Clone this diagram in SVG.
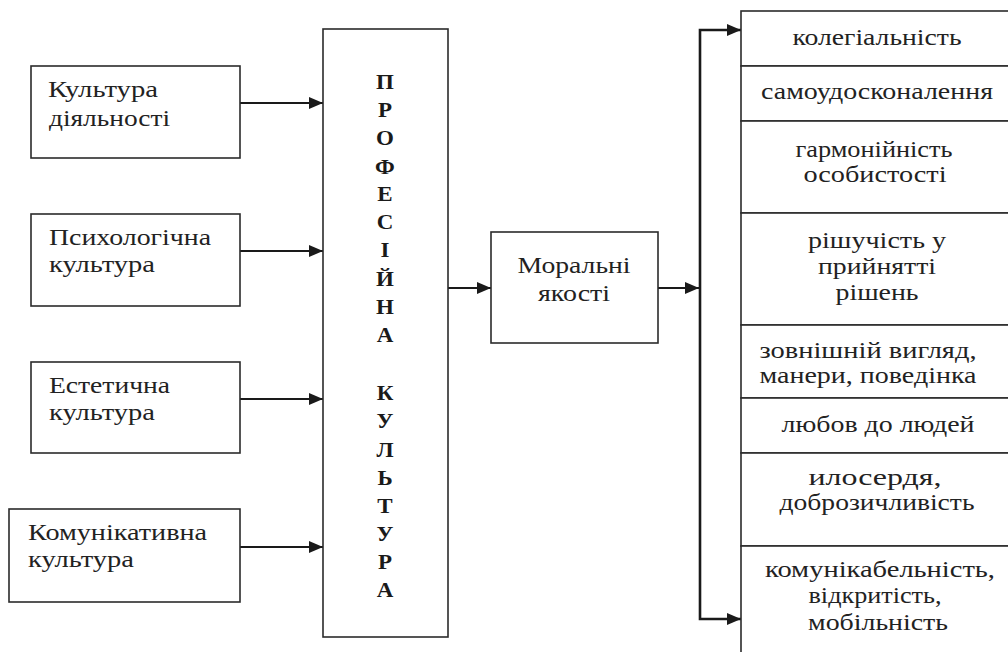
<svg xmlns="http://www.w3.org/2000/svg" width="1008" height="652" viewBox="0 0 1008 652">
<style>
.box{fill:#fff;stroke:#2b2b2b;stroke-width:1.6}
.t{font-family:'Liberation Serif','Times New Roman',serif;font-size:24px;fill:#222}
.c{text-anchor:middle}
.v{font-family:'Liberation Serif','Times New Roman',serif;font-size:20px;font-weight:bold;fill:#1a1a1a;text-anchor:middle}
.ln{stroke:#1a1a1a;stroke-width:2;fill:none}
.bus{stroke:#1a1a1a;stroke-width:2.6;fill:none}
</style>
<defs>
<marker id="ah" markerWidth="16" markerHeight="14" refX="14" refY="6" orient="auto" markerUnits="userSpaceOnUse">
<path d="M0,0 L14,6 L0,12 Z" fill="#1a1a1a"/>
</marker>
</defs>
<rect width="1008" height="652" fill="#fff"/>

<g id="connectors">
<line class="ln" x1="240" y1="103" x2="323" y2="103" marker-end="url(#ah)"/>
<line class="ln" x1="240" y1="251" x2="323" y2="251" marker-end="url(#ah)"/>
<line class="ln" x1="240" y1="399" x2="323" y2="399" marker-end="url(#ah)"/>
<line class="ln" x1="240" y1="547" x2="323" y2="547" marker-end="url(#ah)"/>
<line class="ln" x1="448" y1="288" x2="491" y2="288" marker-end="url(#ah)"/>
<line class="ln" x1="658" y1="288" x2="699" y2="288" marker-end="url(#ah)"/>
<polyline class="bus" points="741,30 700,30 700,619 741,619"/>
<line class="ln" x1="700" y1="30" x2="741" y2="30" marker-end="url(#ah)"/>
<line class="ln" x1="700" y1="619" x2="741" y2="619" marker-end="url(#ah)"/>
</g>

<g id="n-kultura-diyalnosti">
<rect class="box" x="31" y="66" width="209" height="92"/>
<text class="t" x="48" y="97" textLength="110" lengthAdjust="spacingAndGlyphs">Культура</text>
<text class="t" x="49" y="126" textLength="121" lengthAdjust="spacingAndGlyphs">діяльності</text>
</g>
<g id="n-psykholohichna">
<rect class="box" x="31" y="214" width="209" height="92"/>
<text class="t" x="49" y="245" textLength="162" lengthAdjust="spacingAndGlyphs">Психологічна</text>
<text class="t" x="49" y="272" textLength="106" lengthAdjust="spacingAndGlyphs">культура</text>
</g>
<g id="n-estetychna">
<rect class="box" x="31" y="362" width="209" height="91"/>
<text class="t" x="49" y="393" textLength="121" lengthAdjust="spacingAndGlyphs">Естетична</text>
<text class="t" x="49" y="420" textLength="106" lengthAdjust="spacingAndGlyphs">культура</text>
</g>
<g id="n-komunikatyvna">
<rect class="box" x="9" y="509" width="231" height="93"/>
<text class="t" x="28" y="540" textLength="179" lengthAdjust="spacingAndGlyphs">Комунікативна</text>
<text class="t" x="28" y="567" textLength="106" lengthAdjust="spacingAndGlyphs">культура</text>
</g>

<g id="n-profesiina-kultura">
<rect class="box" x="323" y="29" width="125" height="608"/>
<g transform="translate(385,0) scale(1.15,1) translate(-385,0)">
<text class="v" x="385" y="89">П</text>
<text class="v" x="385" y="117">Р</text>
<text class="v" x="385" y="145">О</text>
<text class="v" x="385" y="174">Ф</text>
<text class="v" x="385" y="201">Е</text>
<text class="v" x="385" y="229">С</text>
<text class="v" x="385" y="257">І</text>
<text class="v" x="385" y="286">Й</text>
<text class="v" x="385" y="314">Н</text>
<text class="v" x="385" y="342">А</text>
<text class="v" x="385" y="400">К</text>
<text class="v" x="385" y="428">У</text>
<text class="v" x="385" y="457">Л</text>
<text class="v" x="385" y="485">Ь</text>
<text class="v" x="385" y="513">Т</text>
<text class="v" x="385" y="541">У</text>
<text class="v" x="385" y="569">Р</text>
<text class="v" x="385" y="597">А</text>
</g>
</g>

<g id="n-moralni-yakosti">
<rect class="box" x="491" y="232" width="167" height="111"/>
<text class="t c" x="574" y="273" textLength="113" lengthAdjust="spacingAndGlyphs">Моральні</text>
<text class="t c" x="574" y="301" textLength="72" lengthAdjust="spacingAndGlyphs">якості</text>
</g>

<g id="n-kolehialnist">
<rect class="box" x="741" y="11" width="290" height="55"/>
<text class="t c" x="877" y="45" textLength="169" lengthAdjust="spacingAndGlyphs">колегіальність</text>
</g>
<g id="n-samoudoskonalennia">
<rect class="box" x="741" y="66" width="290" height="55"/>
<text class="t c" x="877" y="99" textLength="232" lengthAdjust="spacingAndGlyphs">самоудосконалення</text>
</g>
<g id="n-harmoniinist">
<rect class="box" x="741" y="121" width="290" height="92"/>
<text class="t c" x="874" y="157" textLength="157" lengthAdjust="spacingAndGlyphs">гармонійність</text>
<text class="t c" x="875" y="182" textLength="143" lengthAdjust="spacingAndGlyphs">особистості</text>
</g>
<g id="n-rishuchist">
<rect class="box" x="741" y="213" width="290" height="112"/>
<text class="t c" x="877" y="248" textLength="138" lengthAdjust="spacingAndGlyphs">рішучість у</text>
<text class="t c" x="877" y="274" textLength="118" lengthAdjust="spacingAndGlyphs">прийнятті</text>
<text class="t c" x="877" y="300" textLength="83" lengthAdjust="spacingAndGlyphs">рішень</text>
</g>
<g id="n-zovnishnii-vyhliad">
<rect class="box" x="741" y="325" width="290" height="73"/>
<text class="t c" x="868" y="358" textLength="217" lengthAdjust="spacingAndGlyphs">зовнішній вигляд,</text>
<text class="t c" x="868" y="383" textLength="217" lengthAdjust="spacingAndGlyphs">манери, поведінка</text>
</g>
<g id="n-liubov">
<rect class="box" x="741" y="398" width="290" height="55"/>
<text class="t c" x="878" y="432" textLength="193" lengthAdjust="spacingAndGlyphs">любов до людей</text>
</g>
<g id="n-myloserdia">
<rect class="box" x="741" y="453" width="290" height="93"/>
<text class="t c" x="875" y="485" textLength="133" lengthAdjust="spacingAndGlyphs">илосердя,</text>
<text class="t c" x="877" y="510" textLength="195" lengthAdjust="spacingAndGlyphs">доброзичливість</text>
</g>
<g id="n-komunikabelnist">
<rect class="box" x="741" y="546" width="290" height="120"/>
<text class="t c" x="880" y="577" textLength="230" lengthAdjust="spacingAndGlyphs">комунікабельність,</text>
<text class="t c" x="875" y="603" textLength="133" lengthAdjust="spacingAndGlyphs">відкритість,</text>
<text class="t c" x="878" y="630" textLength="140" lengthAdjust="spacingAndGlyphs">мобільність</text>
</g>
</svg>
